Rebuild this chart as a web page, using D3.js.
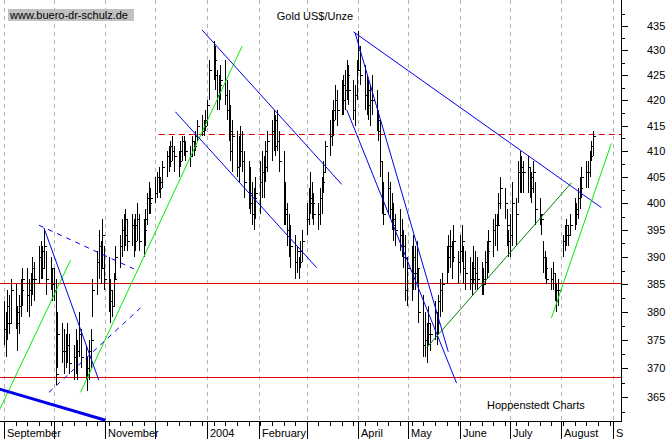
<!DOCTYPE html>
<html><head><meta charset="utf-8">
<script src="https://cdn.jsdelivr.net/npm/d3@7"></script>
<style>body{margin:0;background:#fff}svg{display:block;font-family:"Liberation Sans",Arial,sans-serif}</style>
</head><body><svg id="c" width="669" height="439"></svg>
<script>
// Daily bars (weekdays from 2003-09-01)
const startDate = new Date(2003, 8, 1);
const highs = [
382,380,384,383,386,385,381,383,386,388,388,386,387,390,389,392,393,392,395,391,390,388,
388,386,380,378,377,376,378,376,374,377,375,380,377,374,372,375,377,386,391,395,393,397,392,
390,386,384,387,392,394,397,398,399,397,398,397,398,400,398,397,399,402,404,403,
405,406,407,405,408,410,411,412,413,411,410,412,413,413,412,411,413,412,414,416,417,416,418,
420,428,432,431,426,425,427,428,424,422,419,416,414,413,415,414,410,408,407,404,403,405,
408,410,409,412,414,416,418,417,418,414,410,404,400,398,396,394,392,390,393,395,
400,403,406,404,402,400,403,405,408,412,416,418,420,423,422,424,425,426,428,427,424,423,428,
434,431,427,425,424,423,425,422,418,416,408,404,406,404,402,400,398,399,397,395,394,390,
392,394,392,393,388,383,380,378,381,378,382,380,383,386,387,392,394,395,393,396,391,
394,396,392,391,390,389,392,391,390,389,388,391,393,395,397,398,398,402,405,403,399,395,
398,404,401,408,410,409,408,409,407,406,408,404,401,398,393,391,390,388,389,387,385,386,
394,396,397,396,398,401,400,403,405,407,408,408,410,412,414];
const lows = [
374,372,375,376,378,377,373,376,379,381,380,379,381,383,382,385,386,386,388,383,384,382,
382,367,370,371,369,370,371,369,368,369,368,372,370,368,366,368,370,379,383,386,385,388,384,
380,378,379,381,386,388,390,391,392,391,392,390,391,393,391,390,392,396,398,398,
400,401,402,401,403,405,406,407,408,406,405,407,408,409,408,407,409,409,410,412,413,413,414,
415,420,424,422,418,418,420,419,416,412,408,406,405,404,407,406,401,399,398,396,395,397,
398,401,401,404,406,408,410,409,410,406,396,396,392,390,388,386,387,386,388,389,
394,396,398,397,396,395,396,398,402,406,409,411,413,416,415,417,417,418,420,419,416,415,420,
426,423,418,417,416,415,417,414,412,405,398,396,398,397,395,393,392,391,390,388,382,381,
382,384,384,385,378,372,372,371,374,373,375,374,376,379,380,385,387,388,386,389,385,
387,389,385,384,384,383,385,384,384,383,383,385,386,387,390,392,391,396,399,397,392,390,
390,392,392,400,402,402,402,402,401,400,402,396,396,394,387,386,385,384,384,382,380,381,
390,391,392,392,394,395,396,397,399,401,403,403,405,408,409];
const closes = [
377,378,381,378,384,380,378,381,384,386,383,384,386,388,386,390,391,388,392,386,388,385,
384,369,376,373,373,374,374,371,372,373,373,376,372,370,369,373,375,384,389,392,388,394,386,
382,384,381,386,390,392,395,394,397,393,396,393,396,397,393,395,397,401,400,401,
402,405,403,404,407,409,408,411,410,409,408,410,412,410,410,409,412,411,413,415,414,415,416,
419,426,428,425,421,423,424,421,418,414,410,413,407,410,410,408,404,402,400,398,401,402,
404,406,407,410,412,414,416,411,412,408,398,399,395,392,392,389,391,389,391,393,
397,401,400,400,398,398,401,404,406,411,413,416,418,420,418,420,423,422,425,422,418,421,426,
430,425,421,422,419,420,420,416,414,408,400,398,403,399,397,396,395,394,392,390,384,388,
387,390,387,388,380,374,375,376,378,376,380,378,382,384,385,390,392,392,390,393,389,
391,393,388,387,386,386,388,387,386,386,385,389,391,393,395,396,396,400,403,400,396,393,
394,400,398,406,407,406,406,407,405,403,406,399,398,397,390,388,386,386,387,384,382,384,
393,394,396,394,396,399,398,401,403,405,406,406,409,411,413];
const priceTicks = [365,370,375,380,385,390,395,400,405,410,415,420,425,430,435];
const monthLabels = ["September","","November","","2004","February","","April","May","June","July","August","S"];
// Trend lines: [dayOffset, price] pairs, colour, style
const trendLines = [
 {p:[[-2.4,362.6],[40.3,389.4]], c:"#00ee00", w:1},
 {p:[[46.3,365.8],[143.0,430.8]], c:"#00ee00", w:1},
 {p:[[21.0,395.9],[78.7,387.8]], c:"#0000ee", w:1, d:"5,5"},
 {p:[[27.6,365.8],[82.9,380.7]], c:"#0000ee", w:1, d:"5,5"},
 {p:[[24.6,395.4],[57.7,367.9]], c:"#0000ee", w:1},
 {p:[[-2.4,366.4],[61.9,361.0]], c:"#0000ee", w:3},
 {p:[[119.0,434.2],[203.7,403.6]], c:"#0000ee", w:1},
 {p:[[103.4,417.7],[188.7,388.0]], c:"#0000ee", w:1},
 {p:[[210.9,433.8],[359.4,399.2]], c:"#0000ee", w:1},
 {p:[[211.5,433.6],[267.3,372.9]], c:"#0000ee", w:1},
 {p:[[206.1,418.1],[272.2,367.4]], c:"#0000ee", w:1},
 {p:[[254.8,373.6],[341.9,403.9]], c:"#008000", w:1},
 {p:[[329.3,378.9],[365.4,411.5]], c:"#00ee00", w:1}
];
const hLines = [{v:385.3,from:-3},{v:368.5,from:-3},{v:413.3,from:93.75,d:"6,4"}];

const svg = d3.select("#c");
const W=621, B=421;
const x = d3.scaleTime().domain([startDate, new Date(2004,8,1)]).range([4,613]);
const y = d3.scaleLog().domain([435,365]).range([26,397]);
const dayOff = o => d3.timeDay.offset(startDate, o);

const dates=[]; let d=new Date(startDate);
while(dates.length<highs.length){ if(d.getDay()>0&&d.getDay()<6) dates.push(new Date(d)); d=d3.timeDay.offset(d,1);}
const bars = dates.map((dt,i)=>({dt,h:highs[i],l:lows[i],c:closes[i]}));

svg.append("clipPath").attr("id","cp").append("rect").attr("x",0).attr("y",0).attr("width",W).attr("height",B);
const g = svg.append("g").attr("clip-path","url(#cp)");

const months = d3.timeMonth.range(startDate, new Date(2004,8,2));
g.selectAll(".grid").data(months).join("line")
 .attr("x1",m=>Math.round(x(m))+.5).attr("x2",m=>Math.round(x(m))+.5).attr("y1",0).attr("y2",B)
 .attr("stroke","#b4b4b4").attr("stroke-dasharray","4,4");

svg.append("rect").attr("x",8).attr("y",9).attr("width",126).attr("height",12).attr("fill","#c0c0c0");
svg.append("text").attr("x",10).attr("y",19).attr("font-size",11).text("www.buero-dr-schulz.de");
svg.append("text").attr("x",315).attr("y",20).attr("font-size",11).attr("text-anchor","middle").text("Gold US$/Unze");
svg.append("text").attr("x",487).attr("y",409).attr("font-size",11).text("Hoppenstedt Charts");

hLines.forEach(h=>g.append("line").attr("x1",x(dayOff(h.from))).attr("x2",W).attr("y1",Math.round(y(h.v))+.5).attr("y2",Math.round(y(h.v))+.5)
 .attr("stroke","#e00000").attr("stroke-dasharray",h.d||null));

const bg = g.append("g").attr("stroke","#000").attr("shape-rendering","crispEdges");
bars.forEach(b=>{
 const xx=Math.round(x(b.dt))+.5;
 bg.append("line").attr("x1",xx).attr("x2",xx).attr("y1",Math.round(y(b.h))).attr("y2",Math.round(y(b.l)));
 bg.append("line").attr("x1",xx).attr("x2",xx+2).attr("y1",Math.round(y(b.c))+.5).attr("y2",Math.round(y(b.c))+.5);
});

trendLines.forEach(t=>g.append("line")
 .attr("x1",x(dayOff(t.p[0][0]))).attr("y1",y(t.p[0][1])).attr("x2",x(dayOff(t.p[1][0]))).attr("y2",y(t.p[1][1]))
 .attr("stroke",t.c).attr("stroke-width",t.w).attr("stroke-dasharray",t.d||null));

svg.append("line").attr("x1",W+.5).attr("x2",W+.5).attr("y1",0).attr("y2",B).attr("stroke","#000");
svg.append("line").attr("x1",0).attr("x2",W+1).attr("y1",B+.5).attr("y2",B+.5).attr("stroke","#000");
const minorP=d3.range(362.5,440,2.5);
svg.selectAll(".yt").data(minorP).join("line").attr("x1",W).attr("x2",p=>W+(p%5===0?7:4))
 .attr("y1",p=>Math.round(y(p))+.5).attr("y2",p=>Math.round(y(p))+.5).attr("stroke","#000");
svg.selectAll(".yl").data(priceTicks).join("text").attr("x",647).attr("y",p=>y(p)+4).attr("font-size",11).text(p=>p);
const weeks=d3.timeMonday.range(startDate,new Date(2004,8,5));
svg.selectAll(".wt").data(weeks).join("line").attr("x1",w=>Math.round(x(w))+.5).attr("x2",w=>Math.round(x(w))+.5)
 .attr("y1",B).attr("y2",B+5).attr("stroke","#000");
svg.selectAll(".mt").data(months).join("line").attr("x1",m=>Math.round(x(m))+.5).attr("x2",m=>Math.round(x(m))+.5)
 .attr("y1",B).attr("y2",439).attr("stroke","#000");
svg.selectAll(".ml").data(months).join("text").attr("x",m=>Math.round(x(m))+3).attr("y",437).attr("font-size",11)
 .text((m,i)=>monthLabels[i]||"");
</script></body></html>
